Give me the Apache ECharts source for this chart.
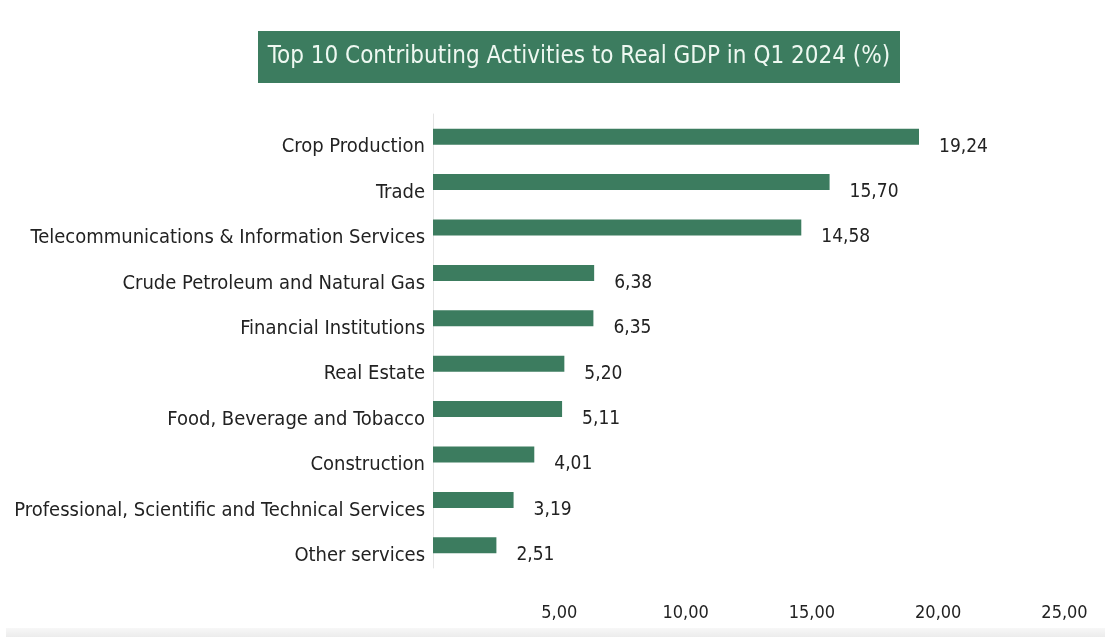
<!DOCTYPE html>
<html>
<head>
<meta charset="utf-8">
<title>Top 10 Contributing Activities to Real GDP in Q1 2024 (%)</title>
<script src="https://cdn.jsdelivr.net/npm/echarts@6/dist/echarts.min.js"></script>
<style>
  html, body { margin: 0; padding: 0; background: #ffffff; }
  #chart { width: 1105px; height: 637px; }
</style>
</head>
<body>
<div id="chart"></div>
<script>
// Activities, ordered from largest to smallest contribution
const activities = [
  'Crop Production',
  'Trade',
  'Telecommunications & Information Services',
  'Crude Petroleum and Natural Gas',
  'Financial Institutions',
  'Real Estate',
  'Food, Beverage and Tobacco',
  'Construction',
  'Professional, Scientific and Technical Services',
  'Other services'
];
// Contribution to real GDP, percent
const contribution = [19.24, 15.70, 14.58, 6.38, 6.35, 5.20, 5.11, 4.01, 3.19, 2.51];
// Value axis ticks
const tickValues = [0, 5, 10, 15, 20, 25];

const chartTitle = 'Top 10 Contributing Activities to Real GDP in Q1 2024 (%)';
const FONT = '"DejaVu Sans Condensed", "Liberation Sans Narrow", "Roboto Condensed", "DejaVu Sans", sans-serif';
const GREEN = '#3c7c5f';

// Decimal comma, two places
const fmt = v => v.toFixed(2).replace('.', ',');

const chart = echarts.init(document.getElementById('chart'), null, { renderer: 'canvas' });

chart.setOption({
  backgroundColor: '#ffffff',
  animation: false,
  graphic: [
    {
      type: 'rect',
      left: 258, top: 31,
      shape: { width: 642, height: 52 },
      style: { fill: GREEN }
    },
    {
      type: 'text',
      x: 579, y: 57,
      style: {
        text: chartTitle,
        fill: '#eef8f1',
        font: '24px ' + FONT,
        align: 'center',
        verticalAlign: 'middle'
      }
    },
    {
      type: 'rect',
      left: 6, top: 628,
      shape: { width: 1099, height: 9 },
      style: {
        fill: new echarts.graphic.LinearGradient(0, 0, 0, 1, [
          { offset: 0, color: '#f7f7f7' },
          { offset: 1, color: '#ececec' }
        ])
      }
    }
  ],
  grid: {
    left: 433,
    right: 40.5,
    top: 114,
    bottom: 69,
    containLabel: false
  },
  xAxis: {
    type: 'value',
    min: tickValues[0],
    max: tickValues[tickValues.length - 1],
    interval: tickValues[1] - tickValues[0],
    axisLine: { show: false },
    axisTick: { show: false },
    splitLine: { show: false },
    axisLabel: {
      margin: 36,
      color: '#222222',
      fontFamily: FONT,
      fontSize: 18,
      formatter: v => (v === 0 ? '' : fmt(v))
    }
  },
  yAxis: {
    type: 'category',
    inverse: true,
    data: activities,
    axisLine: { show: true, lineStyle: { color: '#e4e4e4', width: 1 } },
    axisTick: { show: false },
    splitLine: { show: false },
    axisLabel: {
      margin: 8,
      color: '#222222',
      fontFamily: FONT,
      fontSize: 20,
      verticalAlign: 'top',
      lineHeight: 21
    }
  },
  series: [
    {
      type: 'bar',
      data: contribution,
      barWidth: 16,
      itemStyle: { color: GREEN },
      label: {
        show: true,
        position: 'right',
        distance: 20,
        offset: [0, 10],
        color: '#222222',
        fontFamily: FONT,
        fontSize: 19,
        formatter: p => fmt(p.value)
      }
    }
  ]
});
</script>
</body>
</html>
